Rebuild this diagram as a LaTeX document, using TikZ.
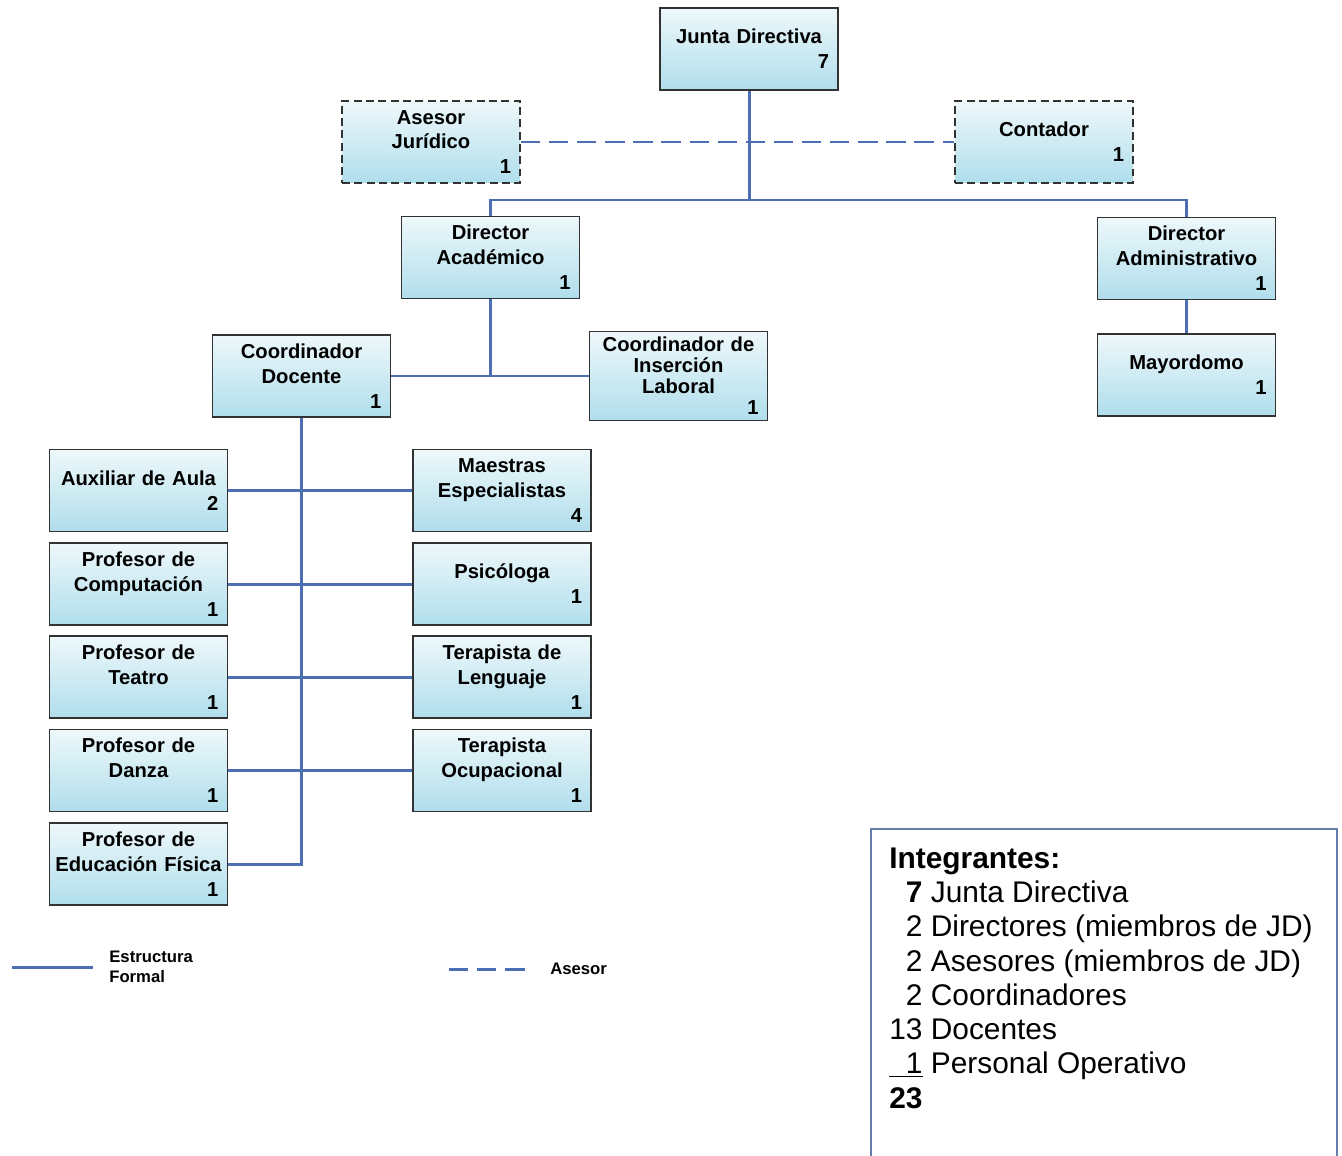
\documentclass[tikz,border=0pt]{standalone}
\usepackage{fontspec}
\setmainfont{Liberation Sans}

\definecolor{linea}{RGB}{75,110,180}
\definecolor{cajaarriba}{RGB}{238,248,250}
\definecolor{cajaabajo}{RGB}{176,222,236}
\definecolor{borde}{RGB}{50,50,50}
\definecolor{marco}{RGB}{100,125,170}

\tikzset{
  cargo/.style={draw=borde, line width=1pt, top color=cajaarriba, bottom color=cajaabajo,
    minimum width=3.56cm, minimum height=1.64cm, text width=3.46cm, inner xsep=0.05cm,
    align=center, font=\fontsize{11.5}{14.2}\selectfont\bfseries},
  asesorbox/.style={cargo, dash pattern=on 4.5pt off 2.5pt},
  formal/.style={draw=linea, line width=1.7pt},
  asesor/.style={draw=linea, line width=1.7pt, dash pattern=on 11pt off 5pt},
  leyenda/.style={align=left, inner sep=0pt, font=\fontsize{9.5}{11.3}\selectfont\bfseries}
}
\newcommand\cnt[1]{\\\makebox[\linewidth][r]{#1\hspace{0.13cm}}}

\begin{document}
\begin{tikzpicture}[x=0.02cm, y=-0.02cm]
\useasboundingbox (0,0) rectangle (1342,1156);

% direccion
\node[cargo] (jd) at (749,49) {Junta Directiva\cnt{7}};
\node[asesorbox] (asesor) at (431,142) {Asesor\\Jurídico\cnt{1}};
\node[asesorbox] (contador) at (1044,142) {Contador\cnt{1}};
\node[cargo] (dirac) at (490.5,257.5) {Director\\Académico\cnt{1}};
\node[cargo] (diradm) at (1186.5,258.5) {Director\\Administrativo\cnt{1}};

% coordinadores
\node[cargo] (cdoc) at (301.5,376) {Coordinador\\Docente\cnt{1}};
\node[cargo, font=\fontsize{11.5}{11.9}\selectfont\bfseries] (cins) at (678.5,376) {Coordinador de\\Inserción\\Laboral\cnt{1}};
\node[cargo] (mayor) at (1186.5,375) {Mayordomo\cnt{1}};

% docentes
\node[cargo] (aux) at (138.5,490.5) {Auxiliar de Aula\cnt{2}};
\node[cargo] (comp) at (138.5,584) {Profesor de\\Computación\cnt{1}};
\node[cargo] (teatro) at (138.5,677) {Profesor de\\Teatro\cnt{1}};
\node[cargo] (danza) at (138.5,770.5) {Profesor de\\Danza\cnt{1}};
\node[cargo] (efis) at (138.5,864) {Profesor de\\Educación Física\cnt{1}};
\node[cargo] (maes) at (502,490.5) {Maestras\\Especialistas\cnt{4}};
\node[cargo] (psic) at (502,584) {Psicóloga\cnt{1}};
\node[cargo] (tleng) at (502,677) {Terapista de\\Lenguaje\cnt{1}};
\node[cargo] (tocup) at (502,770.5) {Terapista\\Ocupacional\cnt{1}};

% lineas
\coordinate (bus) at (0,200);
\draw[formal] (jd.south) -- (jd.south |- bus);
\draw[formal] (dirac.north) |- (diradm.north |- bus) -- (diradm.north);
\draw[asesor] (asesor.east) -- (contador.west);
\draw[formal] (dirac.south) -- (dirac.south |- cins.west);
\draw[formal] (cdoc.east) -- (cins.west);
\draw[formal] (diradm.south) -- (mayor.north);
\draw[formal] (cdoc.south) |- (efis.east);
\draw[formal] (aux.east) -- (maes.west);
\draw[formal] (comp.east) -- (psic.west);
\draw[formal] (teatro.east) -- (tleng.west);
\draw[formal] (danza.east) -- (tocup.west);

% leyenda
\coordinate (fa) at (12,967);
\coordinate (fb) at (93,967);
\draw[formal] (fa) -- (fb);
\node[leyenda, anchor=west] (lform) at (109,967) {Estructura\\Formal};
\coordinate (aa) at (449,969);
\coordinate (ab) at (530,969);
\draw[asesor] (aa) -- (ab);
\node[leyenda, anchor=west] (lases) at (550,969) {Asesor};

% integrantes
\draw[draw=marco, line width=0.8pt] (871,1160) -- (871,829) -- (1337,829) -- (1337,1160);
\node[anchor=north west, inner sep=0pt, font=\fontsize{17}{19.5}\selectfont] (integ) at (889,844) {%
\begin{tabular}{@{}r@{ }l@{}}
\multicolumn{2}{@{}l}{\textbf{Integrantes:}}\\
\textbf{7} & Junta Directiva\\
2 & Directores (miembros de JD)\\
2 & Asesores (miembros de JD)\\
2 & Coordinadores\\
13 & Docentes\\
\underline{\phantom{1}1} & Personal Operativo\\
\textbf{23} &
\end{tabular}};
\end{tikzpicture}
\end{document}
